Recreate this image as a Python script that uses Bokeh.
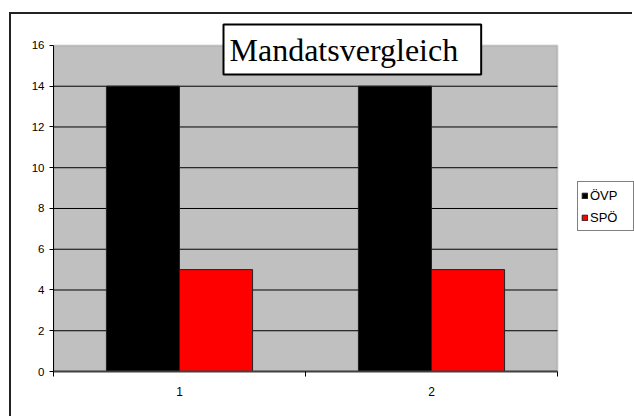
from bokeh.plotting import figure
from bokeh.models import (FixedTicker, Label, Legend, LegendItem, BoxAnnotation,
                          ColumnDataSource, Range1d)
from bokeh.transform import dodge
from bokeh.embed import file_html
from bokeh.resources import INLINE

categories = [1, 2]
cat_labels = ["1", "2"]
ovp = [14, 14]
spo = [5, 5]
series_names = ["ÖVP", "SPÖ"]
title_text = "Mandatsvergleich"
y_ticks = [0, 2, 4, 6, 8, 10, 12, 14, 16]
grid_ticks = [2, 4, 6, 8, 10, 12, 14]
y_max = 16
x_lo, x_hi = 0.5, 2.5

W, H = 623, 404
p = figure(width=W, height=H, output_backend="svg", toolbar_location=None,
           x_range=Range1d(x_lo, 2.8056), y_range=Range1d(0, 17.52),
           min_border_left=42, min_border_right=0, min_border_top=0,
           min_border_bottom=47)
p.styles = {"margin-left": "9px", "margin-top": "12px",
            "border-left": "2px solid #222222", "border-top": "2px solid #222222"}
p.background_fill_color = "white"
p.border_fill_color = "white"
p.outline_line_color = None

# plot area (gray)
area = BoxAnnotation(left=x_lo, right=x_hi, bottom=0, top=y_max,
                     fill_color="#C0C0C0", fill_alpha=1,
                     line_color="#808080", line_width=2, level="image")
p.add_layout(area)

p.xgrid.grid_line_color = None
p.ygrid.grid_line_color = None
gsrc = ColumnDataSource(dict(y=grid_ticks, x0=[x_lo] * len(grid_ticks),
                             x1=[x_hi] * len(grid_ticks)))
p.segment(x0="x0", x1="x1", y0="y", y1="y", source=gsrc,
          line_color="black", line_width=1, level="underlay")

src = ColumnDataSource(dict(x=categories, ovp=ovp, spo=spo))
w = 0.29
r1 = p.vbar(x=dodge("x", -0.145), top="ovp", width=w, source=src,
            fill_color="black", line_color="#222222", line_width=1)
r2 = p.vbar(x=dodge("x", 0.145), top="spo", width=w, source=src,
            fill_color="#FF0000", line_color="#222222", line_width=1)

# axes
ya = p.yaxis[0]
ya.bounds = (0, y_max)
ya.ticker = FixedTicker(ticks=y_ticks)
ya.axis_line_color = "black"
ya.major_tick_out = 4
ya.major_tick_in = 0
ya.minor_tick_line_color = None
ya.major_label_standoff = 5
ya.major_label_text_font = "Liberation Sans"
ya.major_label_text_font_size = "11.5px"
ya.major_label_text_color = "black"

xa = p.xaxis[0]
xa.bounds = (x_lo, x_hi)
xa.ticker = FixedTicker(ticks=categories, minor_ticks=[0.5, 1.5, 2.5])
xa.major_label_overrides = {c: l for c, l in zip(categories, cat_labels)}
xa.axis_line_color = "#404040"
xa.axis_line_width = 2
xa.major_tick_line_color = None
xa.major_tick_out = 5
xa.major_tick_in = 0
xa.minor_tick_line_color = "black"
xa.minor_tick_out = 5
xa.minor_tick_in = 0
xa.major_label_standoff = 10
xa.major_label_text_font = "Liberation Sans"
xa.major_label_text_font_size = "12px"
xa.major_label_text_color = "black"

# title box
title = Label(x=170, y=347, x_units="screen", y_units="screen", text=title_text,
              text_font="Liberation Serif", text_font_size="32px",
              text_color="black", anchor="top_left",
              background_fill_color="white", border_line_color="black",
              border_line_width=2,
              padding=dict(left=6, right=23, top=7, bottom=7))
p.add_layout(title)

legend = Legend(items=[LegendItem(label=series_names[0], renderers=[r1]),
                       LegendItem(label=series_names[1], renderers=[r2])],
                location=(524, 140), orientation="vertical",
                glyph_width=7, glyph_height=7, label_standoff=2,
                label_width=40, label_height=20, spacing=2, padding=3,
                margin=0, border_line_color="black", border_line_width=1,
                background_fill_color="white", background_fill_alpha=1,
                label_text_font="Liberation Sans", label_text_font_size="13px",
                label_text_color="black")
p.add_layout(legend)

open("out.html", "w").write(file_html(p, INLINE))
